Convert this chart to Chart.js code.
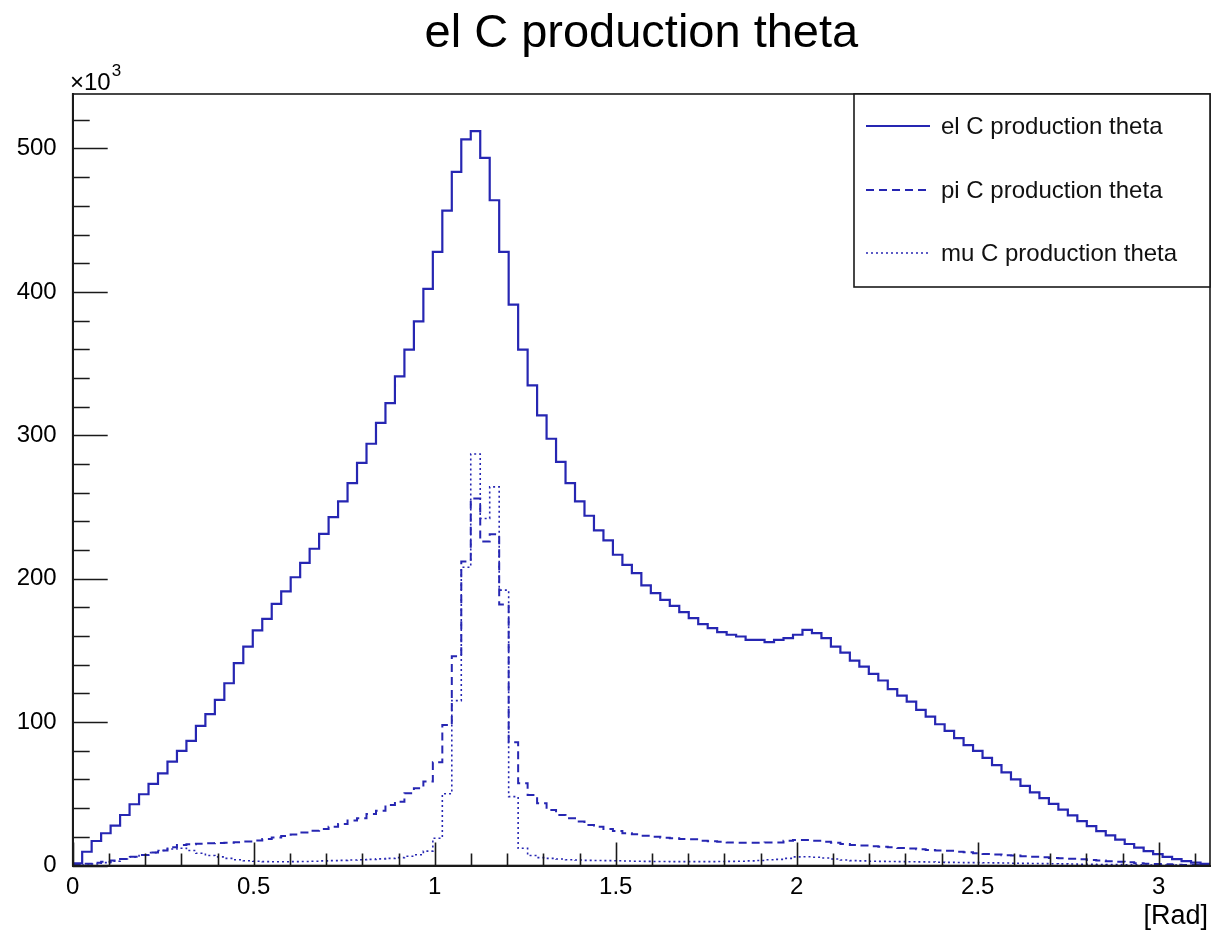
<!DOCTYPE html>
<html>
<head>
<meta charset="utf-8">
<script src="https://cdn.jsdelivr.net/npm/chart.js@4.4.0/dist/chart.umd.min.js"></script>
<style>
  html, body { margin: 0; padding: 0; background: #fff; }
  #wrap { width: 1213px; height: 934px; }
</style>
</head>
<body>
<div id="wrap"><canvas id="c" width="1213" height="934"></canvas></div>
<script>
// ---- Data (bin contents in units of 10^3 entries), 120 bins on [0, pi] ----
const X_MIN = 0;
const X_MAX = Math.PI;
const TITLE = "el C production theta";
const X_UNIT = "[Rad]";
const SERIES_LABELS = ["el C production theta", "pi C production theta", "mu C production theta"];
const X_TICK_LABELS = ["0", "0.5", "1", "1.5", "2", "2.5", "3"];
const Y_TICK_LABELS = ["0", "100", "200", "300", "400", "500"];

const elTheta = [
  1.5, 9.6, 17.1, 22.5, 27.8, 35.2, 42.7, 49.7, 56.9, 64.3,
  72.4, 79.9, 86.9, 97.3, 105.5, 115.5, 127.1, 141.1, 152.7, 163.9,
  172.0, 182.5, 191.1, 201.0, 211.0, 220.9, 231.3, 243.0, 253.9, 266.7,
  280.7, 294.1, 308.6, 322.5, 341.1, 359.7, 379.5, 402.1, 427.9, 456.7,
  483.7, 506.3, 512.1, 493.5, 463.9, 427.9, 391.1, 359.7, 334.8, 313.9,
  297.6, 281.4, 266.7, 253.9, 243.9, 233.7, 226.7, 216.7, 209.7, 203.9,
  195.3, 189.9, 185.3, 181.1, 176.7, 172.5, 168.3, 165.5, 162.7, 160.9,
  159.7, 157.4, 157.4, 155.8, 157.4, 158.5, 160.9, 164.3, 162.0, 158.5,
  152.7, 148.5, 142.9, 138.7, 133.6, 129.0, 123.0, 118.5, 114.3, 108.5,
  103.8, 98.5, 93.9, 88.8, 84.0, 80.0, 75.0, 70.0, 65.0, 60.0,
  55.5, 51.0, 47.0, 43.0, 39.0, 35.0, 31.0, 27.5, 24.0, 21.0,
  18.0, 15.0, 12.5, 10.0, 8.0, 6.0, 4.5, 3.0, 2.0, 1.2
];

const piTheta = [
  0.5, 1.2, 2.0, 2.7, 3.4, 4.5, 6.1, 7.3, 9.0, 10.4,
  12.7, 14.3, 14.8, 15.2, 15.5, 15.7, 15.9, 16.3, 16.8, 17.5,
  18.5, 19.5, 20.5, 21.7, 23.0, 24.3, 25.5, 27.0, 29.0, 31.3,
  32.9, 35.9, 38.2, 42.2, 44.5, 50.4, 53.9, 58.5, 72.0, 98.0,
  146.0, 212.0, 256.0, 226.0, 231.0, 182.0, 86.0, 57.4, 49.2, 43.4,
  38.7, 35.2, 32.9, 30.6, 28.3, 27.1, 25.5, 24.1, 22.5, 21.8,
  20.8, 20.1, 19.4, 19.0, 18.5, 18.3, 17.3, 16.9, 16.6, 16.0,
  15.9, 15.9, 15.9, 16.0, 16.1, 17.3, 17.8, 17.8, 17.3, 16.6,
  15.9, 15.0, 14.3, 14.0, 13.5, 13.1, 12.7, 12.2, 11.8, 11.3,
  10.8, 10.5, 10.2, 9.6, 9.2, 8.6, 8.0, 7.6, 7.2, 6.9,
  6.5, 6.1, 5.7, 5.3, 5.0, 4.7, 4.3, 3.8, 3.4, 3.0,
  2.7, 2.2, 1.6, 1.3, 1.0, 0.8, 0.6, 0.4, 0.3, 0.2
];

const muTheta = [
  0.0, 0.3, 1.0, 2.0, 3.0, 4.5, 6.0, 7.5, 9.0, 10.5,
  11.5, 12.0, 10.5, 8.5, 7.0, 6.0, 5.0, 4.0, 3.3, 3.0,
  2.7, 2.6, 2.6, 2.7, 2.8, 3.0, 3.2, 3.4, 3.6, 3.8,
  4.0, 4.3, 4.6, 5.0, 5.5, 6.5, 7.5, 10.0, 19.0, 50.0,
  115.0, 208.0, 287.0, 242.0, 264.0, 192.0, 48.0, 12.0, 7.0, 5.5,
  5.0, 4.5, 4.0, 3.8, 3.6, 3.5, 3.4, 3.3, 3.1, 3.0,
  2.9, 2.8, 2.8, 2.7, 2.7, 2.7, 2.7, 2.7, 2.8, 2.9,
  3.0, 3.2, 3.5, 4.0, 4.3, 5.0, 6.0, 6.1, 5.8, 5.2,
  4.5, 3.8, 3.4, 3.2, 3.0, 2.9, 2.8, 2.7, 2.6, 2.5,
  2.4, 2.3, 2.2, 2.1, 2.0, 2.0, 1.9, 1.8, 1.7, 1.6,
  1.5, 1.4, 1.3, 1.2, 1.1, 1.0, 0.9, 0.8, 0.7, 0.65,
  0.6, 0.5, 0.45, 0.4, 0.35, 0.3, 0.25, 0.2, 0.15, 0.1
];

// ---- helpers ----
const FONT = "'Liberation Sans', Arial, Helvetica, sans-serif";
const LINE_COLOR = "rgb(38,38,178)";
const Y_MAX = 538;

function histPoints(values) {
  const w = (X_MAX - X_MIN) / values.length;
  const pts = values.map((v, i) => ({ x: X_MIN + i * w, y: v }));
  pts.push({ x: X_MAX, y: values[values.length - 1] });
  return pts;
}

const decorPlugin = {
  id: 'rootDecor',
  afterDraw(chart) {
    const { ctx, chartArea: ca, scales } = chart;
    const xs = scales.x, ys = scales.y;
    ctx.save();
    // inner tick marks (ROOT style)
    ctx.strokeStyle = '#1a1a1a';
    ctx.lineWidth = 1.6;
    ctx.beginPath();
    for (let k = 0; k * 20 <= Y_MAX; k++) {
      const py = Math.round(ys.getPixelForValue(k * 20)) + 0.5;
      const len = (k % 5 === 0) ? 35 : 17;
      ctx.moveTo(ca.left, py); ctx.lineTo(ca.left + len, py);
    }
    for (let k = 0; k * 0.1 <= X_MAX; k++) {
      const px = Math.round(xs.getPixelForValue(k * 0.1)) + 0.5;
      const len = (k % 5 === 0) ? 23 : 12;
      ctx.moveTo(px, ca.bottom); ctx.lineTo(px, ca.bottom - len);
    }
    ctx.stroke();
    // frame
    ctx.lineWidth = 1.6;
    ctx.strokeRect(ca.left, ca.top, ca.right - ca.left, ca.bottom - ca.top);

    // title
    ctx.fillStyle = '#000';
    ctx.font = `47px ${FONT}`;
    ctx.textAlign = 'center';
    ctx.textBaseline = 'alphabetic';
    ctx.fillText(TITLE, (ca.left + ca.right) / 2, 47);

    // x10^3
    ctx.textAlign = 'left';
    ctx.font = `24px ${FONT}`;
    ctx.fillText('\u00d710', 70, 90);
    const w10 = ctx.measureText('\u00d710').width;
    ctx.font = `17px ${FONT}`;
    ctx.fillText('3', 70 + w10 + 1, 76);

    // x-axis unit
    ctx.font = `27px ${FONT}`;
    ctx.textAlign = 'right';
    ctx.fillText(X_UNIT, 1208, 924);

    // legend box
    const lx = 854, ly = ca.top, lw = ca.right - 854, lh = 287 - ca.top;
    ctx.fillStyle = '#fff';
    ctx.fillRect(lx, ly, lw, lh);
    ctx.strokeStyle = '#1a1a1a';
    ctx.lineWidth = 1.6;
    ctx.strokeRect(lx, ly, lw, lh);
    const rowsY = [126, 190, 253];
    chart.data.datasets.forEach((ds, i) => {
      const yy = rowsY[i];
      ctx.strokeStyle = ds.borderColor;
      ctx.lineWidth = ds.borderWidth;
      ctx.setLineDash(ds.borderDash || []);
      ctx.beginPath();
      ctx.moveTo(866, yy); ctx.lineTo(930, yy);
      ctx.stroke();
      ctx.setLineDash([]);
      ctx.fillStyle = '#111';
      ctx.font = `24px ${FONT}`;
      ctx.textAlign = 'left';
      ctx.textBaseline = 'middle';
      ctx.fillText(ds.label, 941, yy + 1);
    });
    ctx.restore();
  }
};

const datasets = [
  { label: SERIES_LABELS[0], data: histPoints(elTheta), borderColor: LINE_COLOR, borderWidth: 2.2, borderDash: [] },
  { label: SERIES_LABELS[1], data: histPoints(piTheta), borderColor: LINE_COLOR, borderWidth: 2.0, borderDash: [8, 5] },
  { label: SERIES_LABELS[2], data: histPoints(muTheta), borderColor: LINE_COLOR, borderWidth: 1.6, borderDash: [2, 3] }
].map(d => Object.assign(d, { stepped: true, fill: false, pointRadius: 0, tension: 0, backgroundColor: 'transparent' }));

new Chart(document.getElementById('c'), {
  type: 'line',
  data: { datasets },
  options: {
    responsive: false,
    animation: false,
    parsing: false,
    normalized: true,
    layout: { padding: { left: 0, top: 94, right: 3, bottom: 0 } },
    plugins: { legend: { display: false }, title: { display: false }, tooltip: { enabled: false } },
    scales: {
      x: {
        type: 'linear', min: X_MIN, max: X_MAX,
        grid: { display: false, drawTicks: false },
        border: { display: true, color: '#1a1a1a', width: 2 },
        ticks: {
          stepSize: 0.5, includeBounds: false, autoSkip: false, maxRotation: 0, padding: 7,
          color: '#000', font: { family: FONT, size: 24 },
          callback: (v) => { const i = Math.round(v / 0.5); return X_TICK_LABELS[i] ?? ''; }
        },
        afterFit: (s) => { s.height = 68.5; }
      },
      y: {
        type: 'linear', min: 0, max: Y_MAX,
        grid: { display: false, drawTicks: false },
        border: { display: true, color: '#1a1a1a', width: 2 },
        ticks: {
          stepSize: 100, includeBounds: false, padding: 16,
          color: '#000', font: { family: FONT, size: 24 },
          callback: (v) => { const i = Math.round(v / 100); return Y_TICK_LABELS[i] ?? ''; }
        },
        afterFit: (s) => { s.width = 72.7; }
      }
    }
  },
  plugins: [decorPlugin]
});
</script>
</body>
</html>
